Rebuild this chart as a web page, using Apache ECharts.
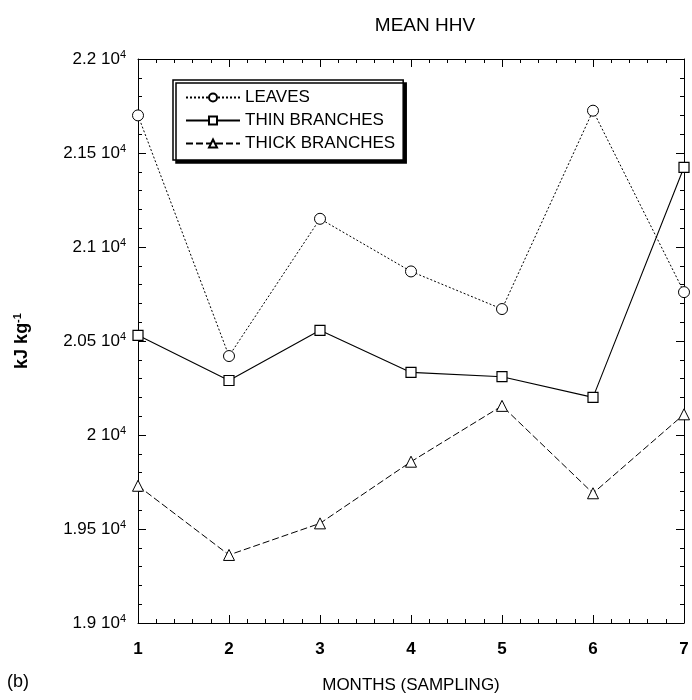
<!DOCTYPE html>
<html>
<head>
<meta charset="utf-8">
<script src="https://cdn.jsdelivr.net/npm/echarts@6/dist/echarts.min.js"></script>
<style>
  html, body { margin: 0; padding: 0; background: #fff; }
  #chart { width: 692px; height: 700px; }
</style>
</head>
<body>
<div id="chart"></div>
<script>
// months of sampling
var months = [1, 2, 3, 4, 5, 6, 7];
// mean HHV, kJ/kg
var leaves = [21700, 20420, 21150, 20870, 20670, 21725, 20760];
var thinBranches = [20530, 20290, 20557, 20333, 20310, 20200, 21424];
var thickBranches = [19730, 19362, 19530, 19858, 20155, 19690, 20110];
var yTicks = [19000, 19500, 20000, 20500, 21000, 21500, 22000];

var font = "Liberation Sans, Arial, sans-serif";

function pairs(vals) {
  return months.map(function (m, i) { return [m, vals[i]]; });
}

var chart = echarts.init(document.getElementById("chart"));

// common axis look - ticks point inward, on all four sides
function frameAxis(extra) {
  var a = {
    axisLine: { show: true, onZero: false, lineStyle: { color: "#000", width: 1 } },
    axisTick: { show: true, inside: true, length: 8, lineStyle: { color: "#000" } },
    minorTick: { show: true, splitNumber: 5, length: 4, lineStyle: { color: "#000" } },
    splitLine: { show: false },
    minorSplitLine: { show: false }
  };
  for (var k in extra) a[k] = extra[k];
  return a;
}

var xBase = { type: "value", min: 1, max: 7, interval: 1 };
var yBase = { type: "value", min: yTicks[0], max: yTicks[yTicks.length - 1], interval: 500 };
var sup = { fontSize: 11, verticalAlign: "top", padding: [0, 0, 9, 0], fontFamily: font, color: "#000" };

var option = {
  animation: false,
  backgroundColor: "#fff",
  textStyle: { fontFamily: font, color: "#000" },
  title: {
    text: "MEAN HHV",
    left: 420,
    textAlign: "center",
    top: 11,
    textStyle: { fontFamily: font, fontSize: 19, fontWeight: "normal", color: "#000" }
  },
  legend: {
    orient: "vertical",
    left: 173,
    top: 80,
    padding: [9, 8, 8, 12],
    itemWidth: 54,
    itemHeight: 10,
    itemGap: 6,
    backgroundColor: "#fff",
    borderColor: "#000",
    borderWidth: 1.5,
    shadowColor: "#000",
    shadowOffsetX: 3,
    shadowOffsetY: 3,
    shadowBlur: 0,
    textStyle: { fontFamily: font, fontSize: 17, color: "#000" },
    data: ["LEAVES", "THIN BRANCHES", "THICK BRANCHES"]
  },
  grid: { left: 138, right: 8, top: 59, bottom: 77 },
  xAxis: [
    frameAxis(Object.assign({}, xBase, {
      position: "bottom",
      name: "MONTHS (SAMPLING)",
      nameLocation: "middle",
      nameGap: 54,
      nameTextStyle: { fontFamily: font, fontSize: 17, color: "#000" },
      axisLabel: { fontFamily: font, fontSize: 17, color: "#000", margin: 18, fontWeight: "bold" }
    })),
    frameAxis(Object.assign({}, xBase, { position: "top", axisLabel: { show: false } }))
  ],
  yAxis: [
    frameAxis(Object.assign({}, yBase, {
      position: "left",
      name: "kJ kg{sup|-1}",
      nameLocation: "middle",
      nameGap: 106,
      nameTextStyle: {
        fontFamily: font, fontSize: 18, color: "#000", fontWeight: "bold",
        rich: { sup: Object.assign({}, sup, { fontWeight: "bold" }) }
      },
      axisLabel: {
        margin: 12,
        fontFamily: font,
        fontSize: 17,
        color: "#000",
        formatter: function (v) { return (v / 10000) + " 10{sup|4}"; },
        rich: { sup: sup }
      }
    })),
    frameAxis(Object.assign({}, yBase, { position: "right", axisLabel: { show: false } }))
  ],
  graphic: [
    {
      type: "text",
      left: 7,
      top: 673,
      style: { text: "(b)", font: "18px " + font, fill: "#000" }
    }
  ],
  series: [
    {
      name: "LEAVES",
      type: "line",
      data: pairs(leaves),
      symbol: "circle",
      symbolSize: 11,
      itemStyle: { color: "#fff", borderColor: "#000", borderWidth: 1 },
      lineStyle: { color: "#000", width: 1, type: [2, 2] }
    },
    {
      name: "THIN BRANCHES",
      type: "line",
      data: pairs(thinBranches),
      symbol: "rect",
      symbolSize: 10,
      itemStyle: { color: "#fff", borderColor: "#000", borderWidth: 1.2 },
      lineStyle: { color: "#000", width: 1.1, type: "solid" }
    },
    {
      name: "THICK BRANCHES",
      type: "line",
      data: pairs(thickBranches),
      symbol: "triangle",
      symbolSize: 11,
      itemStyle: { color: "#fff", borderColor: "#000", borderWidth: 1 },
      lineStyle: { color: "#000", width: 1, type: [7, 3] }
    }
  ]
};

chart.setOption(option);
</script>
</body>
</html>
